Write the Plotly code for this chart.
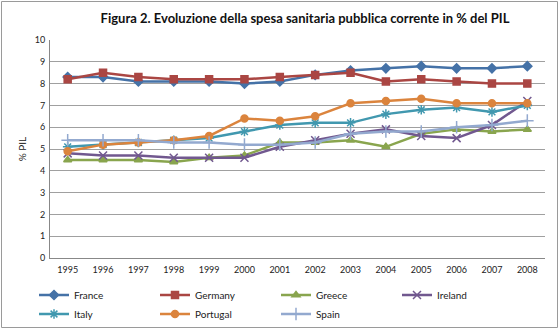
import plotly.graph_objects as go

years = [str(y) for y in range(1995, 2009)]
france   = [8.3, 8.3, 8.1, 8.1, 8.1, 8.0, 8.1, 8.4, 8.6, 8.7, 8.8, 8.7, 8.7, 8.8]
germany  = [8.2, 8.5, 8.3, 8.2, 8.2, 8.2, 8.3, 8.4, 8.5, 8.1, 8.2, 8.1, 8.0, 8.0]
greece   = [4.5, 4.5, 4.5, 4.4, 4.6, 4.7, 5.3, 5.3, 5.4, 5.1, 5.7, 5.9, 5.8, 5.9]
ireland  = [4.8, 4.7, 4.7, 4.6, 4.6, 4.6, 5.1, 5.4, 5.7, 5.9, 5.6, 5.5, 6.1, 7.2]
italy    = [5.1, 5.2, 5.3, 5.4, 5.5, 5.8, 6.1, 6.2, 6.2, 6.6, 6.8, 6.9, 6.7, 7.0]
portugal = [4.9, 5.2, 5.3, 5.4, 5.6, 6.4, 6.3, 6.5, 7.1, 7.2, 7.3, 7.1, 7.1, 7.1]
spain    = [5.4, 5.4, 5.4, 5.3, 5.3, 5.2, 5.2, 5.3, 5.7, 5.8, 5.8, 6.0, 6.1, 6.3]

series = [
    ("France", france, "#4572A7", "diamond", 7, "legend"),
    ("Germany", germany, "#AA4643", "square", 7, "legend"),
    ("Greece", greece, "#89A54E", "triangle-up", 7, "legend"),
    ("Ireland", ireland, "#71588F", "x-thin-open", 8, "legend"),
    ("Italy", italy, "#4198AF", "asterisk-open", 8, "legend2"),
    ("Portugal", portugal, "#DB843D", "circle", 7, "legend2"),
    ("Spain", spain, "#93A9CF", "cross-thin-open", 9, "legend2"),
]

FONT = "Lato"
fig = go.Figure()
for name, vals, col, sym, sz, lg in series:
    fig.add_trace(go.Scatter(
        x=years, y=vals, name=name, mode="lines+markers",
        line=dict(color=col, width=2.5),
        marker=dict(symbol=sym, size=sz, color=col, line=dict(color=col, width=1.5)),
        legend=lg,
    ))

W, H = 560, 332
L, R, T, B = 50, 15, 40, 74
pw, ph = W - L - R, H - T - B

def px(x):
    return (x - L) / pw

def py(y):
    return (H - B - y) / ph

legend_common = dict(
    orientation="h", xanchor="left", yanchor="middle",
    xref="container", yref="container",
    font=dict(family=FONT, size=10, color="#222"),
    entrywidth=76, entrywidthmode="pixels",
    bgcolor="rgba(0,0,0,0)", itemwidth=30, tracegroupgap=0,
)

fig.update_layout(
    width=W, height=H,
    margin=dict(l=L, r=R, t=T, b=B, autoexpand=False),
    paper_bgcolor="white", plot_bgcolor="white",
    font=dict(family=FONT, size=9, color="#222"),
    title=dict(text="<b>Figura 2. Evoluzione della spesa sanitaria pubblica corrente in % del PIL</b>",
               x=px(305), xref="paper", xanchor="center", y=1 - 18 / H, yanchor="middle",
               font=dict(family=FONT, size=13, color="#111")),
    xaxis=dict(type="category", showgrid=False, showline=True, linecolor="#888", linewidth=1,
               ticks="", tickfont=dict(size=9, family=FONT), range=[-0.5, 13.5],
               ticklabelstandoff=3),
    yaxis=dict(range=[0, 10], dtick=1, showgrid=True, gridcolor="#a0a0a0", gridwidth=1,
               showline=True, linecolor="#888", linewidth=1, zeroline=False,
               ticks="", tickfont=dict(size=9, family=FONT), ticklabelstandoff=2,
               title=dict(text="% PIL", font=dict(size=10, family=FONT), standoff=6)),
    legend=dict(x=34 / W, y=1 - 295 / H, **legend_common),
    legend2=dict(x=34 / W, y=1 - 314 / H, **legend_common),
    showlegend=True,
)

fig.add_shape(type="rect", xref="paper", yref="paper",
              x0=px(1.5), x1=px(557.5), y0=py(327.5), y1=py(1.5),
              line=dict(color="#9a9a9a", width=1), layer="below")

fig.write_html("out.html")
